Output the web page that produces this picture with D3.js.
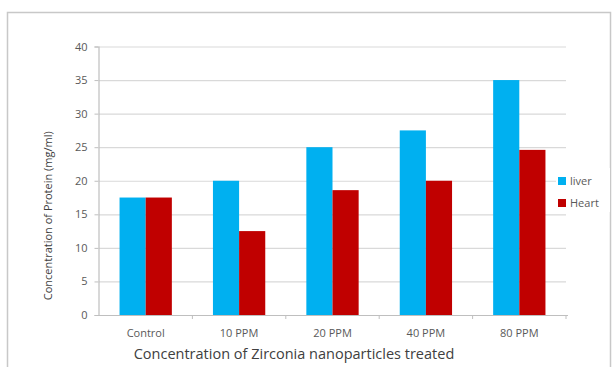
<!DOCTYPE html>
<html><head><meta charset="utf-8">
<script src="https://cdn.jsdelivr.net/npm/d3@7"></script>
<style>body{margin:0;background:#fff}svg{display:block}</style>
</head><body><svg id="c" width="612" height="367"></svg>
<script>
const categories = ["Control", "10 PPM", "20 PPM", "40 PPM", "80 PPM"];
const seriesNames = ["liver", "Heart"];
const liver = [17.5, 20, 25, 27.5, 35];
const heart = [17.5, 12.5, 18.6, 20, 24.6];
const yTicks = [0, 5, 10, 15, 20, 25, 30, 35, 40];
const colors = ["#00B0F0", "#C00000"];

const svg = d3.select("#c");
const font = "'Open Sans', 'Liberation Sans', sans-serif";
svg.append("rect").attr("x", 7.5).attr("y", 12.5).attr("width", 603).attr("height", 400)
  .attr("fill", "#fff").attr("stroke", "#c8c8c8").attr("stroke-width", 1.5);

const x0 = d3.scaleBand().domain(categories).range([99, 566]).paddingInner(0.44).paddingOuter(0.22);
const x1 = d3.scaleBand().domain(seriesNames).range([0, x0.bandwidth()]);
const y = d3.scaleLinear().domain([0, 40]).range([315, 46.5]);

// gridlines
svg.append("g").selectAll("line").data(yTicks.slice(1)).join("line")
  .attr("x1", 99).attr("x2", 566).attr("y1", d => y(d) + 0.5).attr("y2", d => y(d) + 0.5)
  .attr("stroke", "#d9d9d9").attr("stroke-width", 1.2);

// bars
const data = categories.map((c, i) => ({c, vals: [liver[i], heart[i]]}));
const g = svg.append("g").selectAll("g").data(data).join("g")
  .attr("transform", d => `translate(${x0(d.c)},0)`);
g.selectAll("rect").data(d => d.vals.map((v, j) => ({k: seriesNames[j], v, j}))).join("rect")
  .attr("x", d => x1(d.k)).attr("width", x1.bandwidth())
  .attr("y", d => y(d.v)).attr("height", d => y(0) - y(d.v))
  .attr("fill", d => colors[d.j]);

// y axis
const ya = svg.append("g").attr("transform", "translate(98.5,0)")
  .call(d3.axisLeft(y).tickValues(yTicks).tickSize(4).tickPadding(7));
ya.select(".domain").attr("stroke", "#bfbfbf").attr("stroke-width", 1.2);
ya.selectAll(".tick line").attr("stroke", "#bfbfbf");
ya.selectAll("text").attr("font-family", font).attr("font-size", 11).attr("fill", "#595959");

// x axis
const xa = svg.append("g").attr("transform", `translate(0,${y(0) + 0.5})`)
  .call(d3.axisBottom(x0).tickSize(0).tickPadding(14));
xa.select(".domain").attr("stroke", "#bfbfbf").attr("stroke-width", 1.2).attr("d", "M98,0H568");
xa.selectAll("text").attr("font-family", font).attr("font-size", 11).attr("fill", "#595959");
// category separator ticks
const step = x0.step();
const start = x0(categories[0]) - step * x0.paddingOuter();
svg.append("g").selectAll("line").data(d3.range(1, categories.length + 1)).join("line")
  .attr("x1", i => start + i * step).attr("x2", i => start + i * step)
  .attr("y1", y(0)).attr("y2", y(0) + 4).attr("stroke", "#bfbfbf");

// axis titles
svg.append("text").attr("transform", `translate(52,${(y(0) + y(40)) / 2 + 35}) rotate(-90)`)
  .attr("text-anchor", "middle").attr("font-family", font).attr("font-size", 11).attr("fill", "#404040")
  .text("Concentration of Protein (mg/ml)");
svg.append("text").attr("x", 294).attr("y", 359).attr("text-anchor", "middle")
  .attr("font-family", font).attr("font-size", 14.5).attr("fill", "#404040")
  .text("Concentration of Zirconia nanoparticles treated");

// legend
const lg = svg.append("g");
lg.append("rect").attr("x", 556).attr("y", 168).attr("width", 54).attr("height", 44).attr("fill", "#fff");
const li = lg.selectAll("g").data(seriesNames).join("g")
  .attr("transform", (d, i) => `translate(558,${181 + i * 22})`);
li.append("rect").attr("x", 0).attr("y", -4).attr("width", 8).attr("height", 8).attr("fill", (d, i) => colors[i]);
li.append("text").attr("x", 12).attr("y", 4).attr("font-family", font).attr("font-size", 11)
  .attr("fill", "#595959").text(d => d);
</script></body></html>
